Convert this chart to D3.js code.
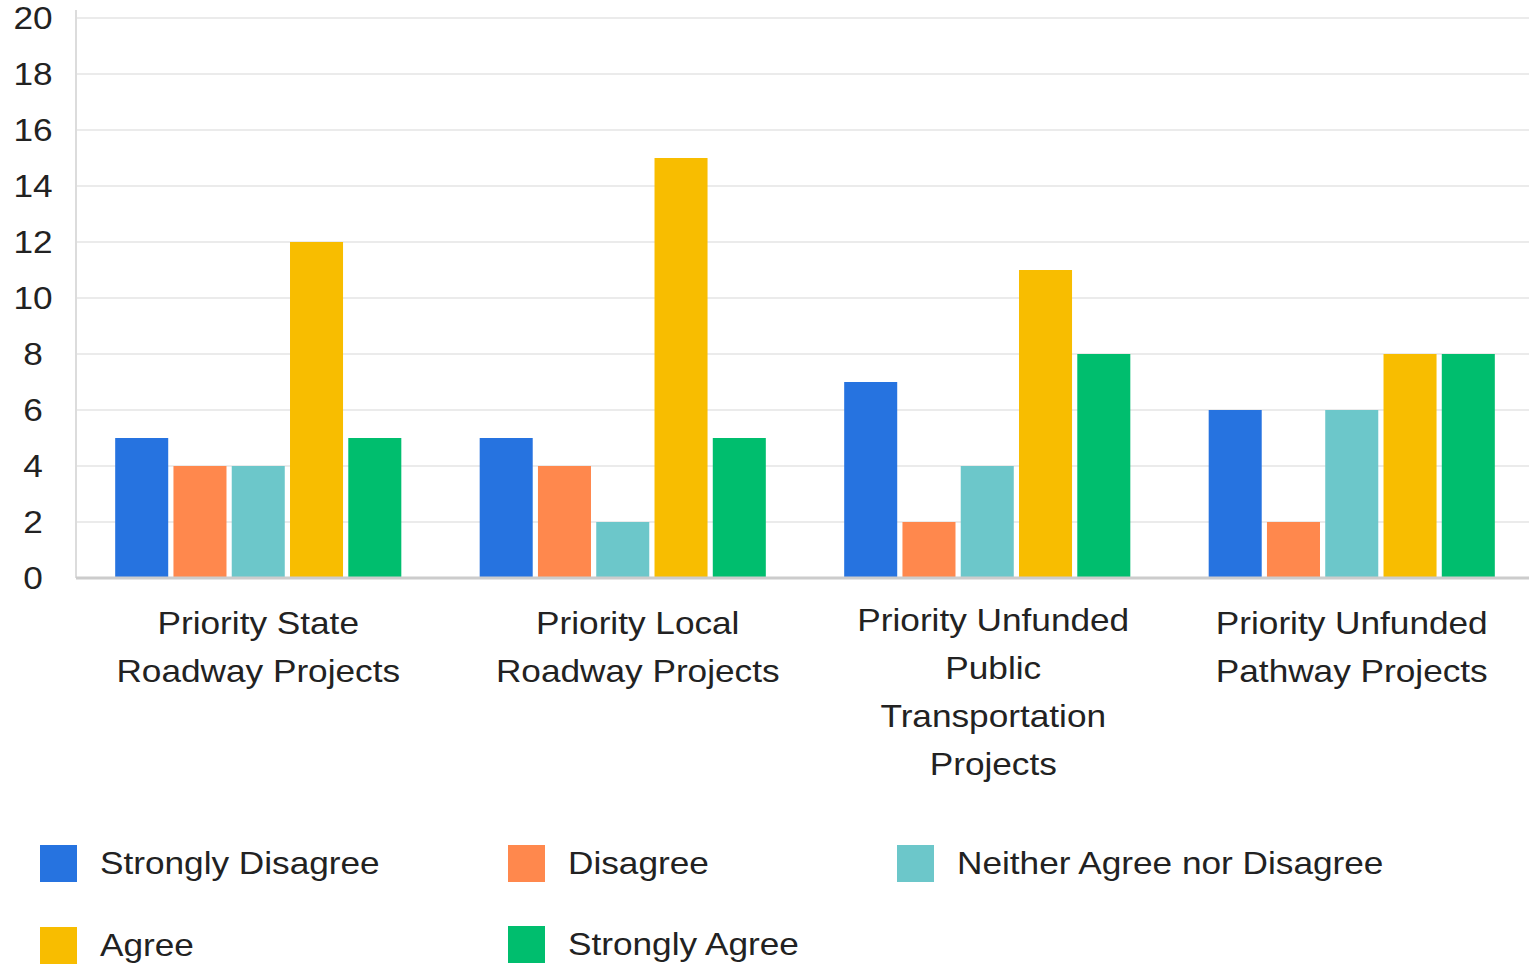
<html>
<head>
<script src="https://cdnjs.cloudflare.com/ajax/libs/d3/7.8.5/d3.min.js"></script>
<style>
  body { margin: 0; background: #fff; }
  text { font-family: "Liberation Sans", Arial, sans-serif; fill: #222; }
</style>
</head>
<body>
<div id="chart"></div>
<script>
let categories = [
  ["Priority State", "Roadway Projects"],
  ["Priority Local", "Roadway Projects"],
  ["Priority Unfunded", "Public", "Transportation", "Projects"],
  ["Priority Unfunded", "Pathway Projects"]
];
let seriesNames = ["Strongly Disagree", "Disagree", "Neither Agree nor Disagree", "Agree", "Strongly Agree"];
let seriesColors = ["#2673e0", "#ff884d", "#6cc7ca", "#f8bd00", "#00be6e"];
let stronglyDisagree = [5, 5, 7, 6];
let disagree = [4, 4, 2, 2];
let neither = [4, 2, 4, 6];
let agree = [12, 15, 11, 8];
let stronglyAgree = [5, 5, 8, 8];
let yTicks = [0, 2, 4, 6, 8, 10, 12, 14, 16, 18, 20];

let series = [stronglyDisagree, disagree, neither, agree, stronglyAgree];
let W = 1529, H = 967;
let plotLeft = 76, plotRight = 1534, plotTop = 18, plotBottom = 578;
let stretch = 1.1; // text in the source is a bit wider than Liberation Sans
let labelShift = [0, 15, 6, 0]; // category labels are not quite centred in the source

let svg = d3.select('#chart').append('svg')
  .attr('width', W).attr('height', H);

let y = d3.scaleLinear().domain([0, 20]).range([plotBottom, plotTop]);
let x0 = d3.scaleBand().domain(d3.range(categories.length))
  .range([plotLeft, plotRight]).paddingInner(0.215).paddingOuter(0.1075);
let x1 = d3.scaleBand().domain(d3.range(series.length))
  .range([0, x0.bandwidth()]).paddingInner(0.09).paddingOuter(0);

// gridlines
svg.append('g').selectAll('line')
  .data(yTicks.filter(d => d > 0))
  .enter().append('line')
  .attr('x1', plotLeft).attr('x2', W)
  .attr('y1', d => y(d)).attr('y2', d => y(d))
  .attr('stroke', '#ebebeb').attr('stroke-width', 2);

// y labels
svg.append('g').selectAll('text')
  .data(yTicks).enter().append('text')
  .attr('transform', d => 'translate(33,' + y(d) + ') scale(' + stretch + ',1)')
  .attr('dy', '0.35em')
  .attr('text-anchor', 'middle')
  .style('font-size', '32px')
  .text(d => d);

// bars
let groups = svg.append('g').selectAll('g')
  .data(categories).enter().append('g')
  .attr('transform', (d, i) => 'translate(' + x0(i) + ',0)');

groups.selectAll('rect')
  .data((d, i) => series.map((s, j) => ({ j: j, v: s[i] })))
  .enter().append('rect')
  .attr('x', d => x1(d.j))
  .attr('width', x1.bandwidth())
  .attr('y', d => y(d.v))
  .attr('height', d => plotBottom - y(d.v))
  .attr('fill', d => seriesColors[d.j]);

// axes lines
svg.append('line').attr('x1', plotLeft).attr('x2', plotLeft)
  .attr('y1', plotTop - 8).attr('y2', plotBottom)
  .attr('stroke', '#dcdcdc').attr('stroke-width', 2);
svg.append('line').attr('x1', plotLeft).attr('x2', W)
  .attr('y1', plotBottom).attr('y2', plotBottom)
  .attr('stroke', '#cccccc').attr('stroke-width', 3);

// category labels
categories.forEach((lines, i) => {
  let cx = x0(i) + x0.bandwidth() / 2 + labelShift[i];
  let startY = lines.length > 2 ? 620 : 623;
  let t = svg.append('text')
    .attr('transform', 'translate(' + cx + ',0) scale(' + stretch + ',1)')
    .attr('text-anchor', 'middle')
    .style('font-size', '32px');
  lines.forEach((ln, k) => {
    t.append('tspan').attr('x', 0).attr('y', startY + k * 48)
      .attr('dy', '0.35em').text(ln);
  });
});

// legend
let legendPos = [[40, 863], [508, 863], [897, 863], [40, 945], [508, 944]];
let legend = svg.append('g').selectAll('g')
  .data(seriesNames).enter().append('g')
  .attr('transform', (d, i) => 'translate(' + legendPos[i][0] + ',' + legendPos[i][1] + ')');
legend.append('rect')
  .attr('x', 0).attr('y', -18).attr('width', 37).attr('height', 37)
  .attr('fill', (d, i) => seriesColors[i]);
legend.append('text')
  .attr('transform', 'translate(60,0) scale(' + stretch + ',1)')
  .attr('dy', '0.35em')
  .style('font-size', '32px')
  .text(d => d);
</script>
</body>
</html>
